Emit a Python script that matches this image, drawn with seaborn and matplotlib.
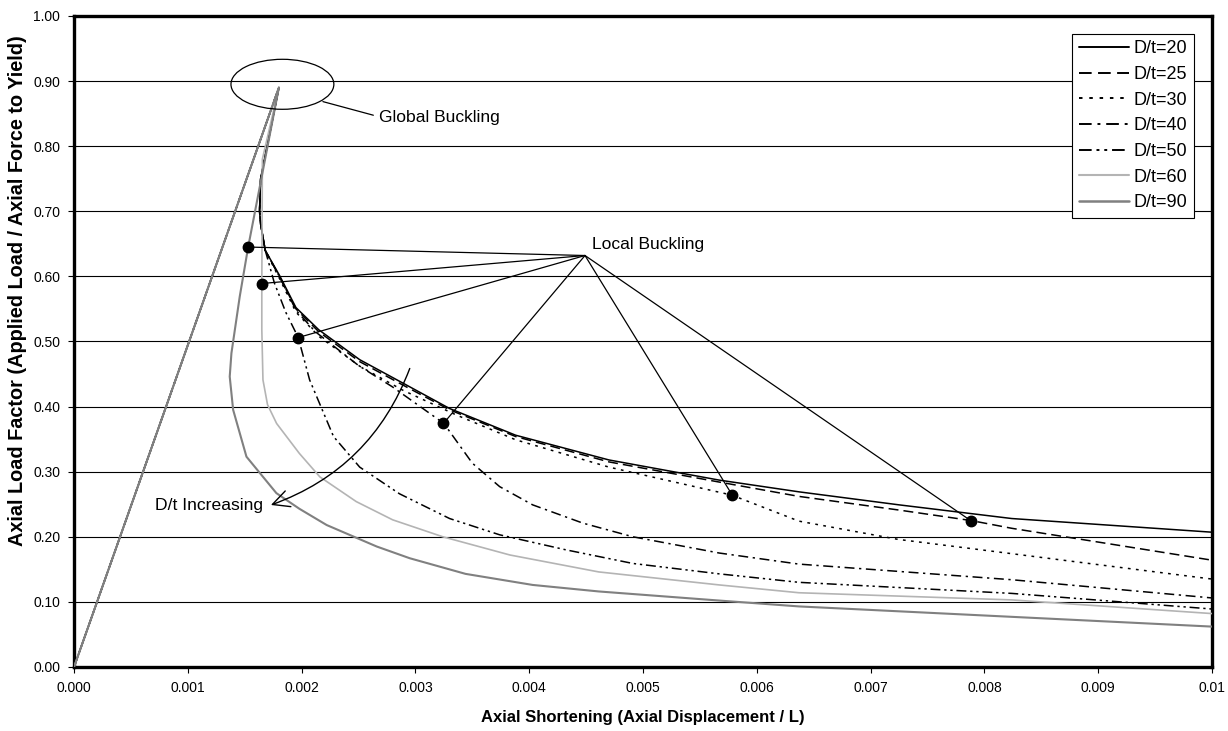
import numpy as np
import matplotlib.pyplot as plt
import seaborn as sns
import pandas as pd
from matplotlib.patches import Ellipse
from matplotlib.lines import Line2D

# load-shortening curves, one list pair per D/t
# every curve starts with the shared elastic branch up to global buckling (0.0018, 0.89)
labels = ["D/t=20", "D/t=25", "D/t=30", "D/t=40", "D/t=50", "D/t=60", "D/t=90"]

x20 = [0, 0.0018, 0.00164, 0.00163, 0.00164, 0.00168, 0.00181, 0.00195, 0.00215, 0.00251,
       0.00289, 0.00330, 0.00388, 0.00470, 0.00567, 0.00637, 0.00725, 0.00824, 0.0100]
y20 = [0, 0.89, 0.75, 0.70, 0.68, 0.64, 0.600, 0.552, 0.518, 0.472,
       0.436, 0.397, 0.356, 0.318, 0.287, 0.269, 0.249, 0.228, 0.207]

x25 = [0, 0.0018, 0.00164, 0.00163, 0.00164, 0.00168, 0.00181, 0.00195, 0.00215, 0.00251,
       0.00289, 0.00330, 0.00388, 0.00470, 0.00567, 0.00637, 0.00725, 0.00788, 0.00824, 0.0100]
y25 = [0, 0.89, 0.75, 0.70, 0.68, 0.64, 0.598, 0.550, 0.515, 0.469,
       0.433, 0.395, 0.354, 0.315, 0.284, 0.262, 0.241, 0.225, 0.213, 0.164]

x30 = [0, 0.0018, 0.00164, 0.00163, 0.00164, 0.00168, 0.00181, 0.00195, 0.00215, 0.00251,
       0.00289, 0.00336, 0.00388, 0.00470, 0.00578, 0.00637, 0.00724, 0.00824, 0.0100]
y30 = [0, 0.89, 0.75, 0.70, 0.68, 0.64, 0.595, 0.545, 0.508, 0.462,
       0.425, 0.387, 0.349, 0.307, 0.264, 0.224, 0.196, 0.174, 0.135]

x40 = [0, 0.0018, 0.00164, 0.00163, 0.00164, 0.00168, 0.00181, 0.00195, 0.00212, 0.00250,
       0.00280, 0.00325, 0.00350, 0.00374, 0.00403, 0.00447, 0.00491, 0.00567, 0.00637,
       0.00824, 0.0100]
y40 = [0, 0.89, 0.75, 0.70, 0.68, 0.64, 0.598, 0.548, 0.515, 0.463,
       0.430, 0.374, 0.313, 0.277, 0.249, 0.221, 0.200, 0.175, 0.158,
       0.134, 0.106]

x50 = [0, 0.0018, 0.00164, 0.00163, 0.00164, 0.00168, 0.00176, 0.00186, 0.00197, 0.00207,
       0.00228, 0.00251, 0.00286, 0.00330, 0.00374, 0.00432, 0.00491, 0.00567, 0.00637,
       0.00824, 0.0100]
y50 = [0, 0.89, 0.75, 0.70, 0.68, 0.64, 0.590, 0.545, 0.506, 0.441,
       0.354, 0.307, 0.266, 0.228, 0.203, 0.180, 0.159, 0.143, 0.130,
       0.113, 0.089]

x60 = [0, 0.0018, 0.001655, 0.00165, 0.00165, 0.00166, 0.00170, 0.00178, 0.00198, 0.00216,
       0.00248, 0.00280, 0.00324, 0.00383, 0.00461, 0.00567, 0.00637, 0.00824, 0.0100]
y60 = [0, 0.89, 0.78, 0.589, 0.518, 0.441, 0.403, 0.374, 0.328, 0.292,
       0.254, 0.226, 0.200, 0.172, 0.146, 0.126, 0.114, 0.103, 0.082]

x90 = [0, 0.0018, 0.00153, 0.001456, 0.001383, 0.001368, 0.001398, 0.001515, 0.001778, 0.00198,
       0.00222, 0.00266, 0.00295, 0.00344, 0.00403, 0.00461, 0.00567, 0.00637, 0.00824, 0.0100]
y90 = [0, 0.89, 0.645, 0.569, 0.482, 0.446, 0.395, 0.323, 0.267, 0.243,
       0.218, 0.185, 0.167, 0.143, 0.126, 0.116, 0.102, 0.093, 0.077, 0.062]

# local buckling points (90, 60, 50, 40, 30, 25) and where the callout lines meet
lb_x = [0.00153, 0.00165, 0.00197, 0.003246, 0.005784, 0.00788]
lb_y = [0.645, 0.589, 0.506, 0.374, 0.264, 0.2247]
lb_apex = (0.00449, 0.632)

xticks = [0.000, 0.001, 0.002, 0.003, 0.004, 0.005, 0.006, 0.007, 0.008, 0.009, 0.010]
xticklabels = ["0.000", "0.001", "0.002", "0.003", "0.004", "0.005", "0.006",
               "0.007", "0.008", "0.009", "0.01"]
yticks = [0.0, 0.1, 0.2, 0.3, 0.4, 0.5, 0.6, 0.7, 0.8, 0.9, 1.0]

xs = [x20, x25, x30, x40, x50, x60, x90]
ys = [y20, y25, y30, y40, y50, y60, y90]
frames = []
for lab, xx, yy in zip(labels, xs, ys):
    frames.append(pd.DataFrame({"x": xx, "y": yy, "series": lab}))
df = pd.concat(frames, ignore_index=True)

colors = {"D/t=20": "black", "D/t=25": "black", "D/t=30": "black", "D/t=40": "black",
          "D/t=50": "black", "D/t=60": "#b4b4b4", "D/t=90": "#808080"}
dashes = {"D/t=20": "", "D/t=25": (6.5, 3.3), "D/t=30": (1.8, 3.5),
          "D/t=40": (6.5, 3, 1.5, 3), "D/t=50": (6.5, 2.5, 1.5, 2.5, 1.5, 2.5),
          "D/t=60": "", "D/t=90": ""}
widths = {"D/t=20": 1.1, "D/t=25": 1.1, "D/t=30": 1.1, "D/t=40": 1.1,
          "D/t=50": 1.1, "D/t=60": 1.2, "D/t=90": 1.5}

sns.set_theme(style="white")
plt.rcParams["font.family"] = ["Liberation Sans", "DejaVu Sans"]
plt.rcParams["text.color"] = "black"
plt.rcParams["axes.labelcolor"] = "black"

fig = plt.figure(figsize=(12.28, 7.31), dpi=100)
ax = fig.add_axes([0.0603, 0.0876, 0.9267, 0.8906])

sns.lineplot(data=df, x="x", y="y", hue="series", style="series", hue_order=labels,
             style_order=labels, palette=colors, dashes=dashes, sort=False,
             estimator=None, legend=False, ax=ax)
for line, lab in zip(ax.lines, labels):
    line.set_linewidth(widths[lab])
    line.set_zorder(3)

# local buckling callouts
for bx, by in zip(lb_x, lb_y):
    ax.plot([lb_apex[0], bx], [lb_apex[1], by], color="black", lw=0.9, zorder=4)
ax.plot(lb_x, lb_y, "o", color="black", ms=7.5, zorder=5)
ax.text(0.004553, 0.6493, "Local Buckling", va="center", fontsize=12.6, color="black")

# global buckling callout
ax.add_patch(Ellipse((0.001831, 0.895), 0.000904, 0.0768, fill=False, ec="black", lw=0.9, zorder=4))
ax.plot([0.002187, 0.00263], [0.8684, 0.8475], color="black", lw=0.9, zorder=4)
ax.text(0.00268, 0.8435, "Global Buckling", va="center", fontsize=12.6, color="black")

# D/t increasing arrow
ax.annotate("", xy=(0.00173, 0.2488), xytext=(0.00295, 0.4585),
            arrowprops=dict(arrowstyle="->,head_length=0.6,head_width=0.3",
                            connectionstyle="arc3,rad=-0.23", color="black", lw=1,
                            shrinkA=0, shrinkB=0, mutation_scale=20), zorder=4)
ax.text(0.00071, 0.2473, "D/t Increasing", va="center", fontsize=12.6, color="black")

ax.set_xlim(0, 0.01)
ax.set_ylim(0, 1.0)
ax.set_xticks(xticks)
ax.set_xticklabels(xticklabels)
ax.set_yticks(yticks)
ax.set_yticklabels([f"{v:.2f}" for v in yticks])
ax.tick_params(axis="both", direction="out", length=4, width=0.8, color="black",
               labelsize=10, labelcolor="black", bottom=True, left=True, pad=6)
ax.yaxis.grid(True, color="black", lw=0.8)
ax.xaxis.grid(False)
ax.set_axisbelow(True)
for sp in ax.spines.values():
    sp.set_color("black")
    sp.set_linewidth(2.4)

ax.set_xlabel("Axial Shortening (Axial Displacement / L)", fontsize=12, fontweight="bold",
              color="black")
ax.set_ylabel("Axial Load Factor (Applied Load / Axial Force to Yield)", fontsize=14.3,
              fontweight="bold", color="black")
ax.xaxis.set_label_coords(0.5, -0.066)
ax.yaxis.set_label_coords(-0.041, 0.578)

handles = []
for l in labels:
    h = Line2D([0], [0], color=colors[l], lw=widths[l] + 0.3)
    if dashes[l] == "":
        h.set_linestyle("-")
    else:
        h.set_dashes(dashes[l])
    handles.append(h)
leg = ax.legend(handles, labels, loc="upper right", bbox_to_anchor=(0.984, 0.972),
                borderaxespad=0, fontsize=13, frameon=True, fancybox=False,
                framealpha=1, edgecolor="black", handlelength=2.8, handletextpad=0.25,
                labelspacing=0.48, borderpad=0.35)
leg.get_frame().set_linewidth(0.8)
for t in leg.get_texts():
    t.set_color("black")
leg.set_zorder(10)

fig.savefig("out.png", dpi=100)
